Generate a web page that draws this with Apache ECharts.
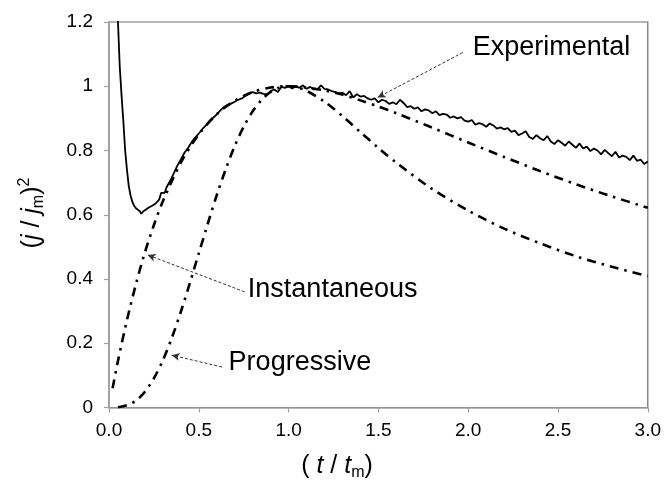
<!DOCTYPE html>
<html><head><meta charset="utf-8">
<script src="https://cdn.jsdelivr.net/npm/echarts@6/dist/echarts.min.js"></script>
<style>html,body{margin:0;padding:0;background:#fff}#c{width:664px;height:484px}</style>
</head><body><div id="c"></div>
<script>
// Experimental curve (t/tm, (j/jm)^2)
const expT = [0.04,0.05,0.06,0.07,0.08,0.09,0.10,0.11,0.12,0.13,0.14,0.15,0.16,0.17,0.18,0.19,0.20,0.22,0.24,0.26,0.28,0.29,0.30,0.31,0.32,0.34,0.36,0.38,0.40,0.42,0.44,0.46,0.48,0.50,0.52,0.54,0.56,0.58,0.60,0.62,0.64,0.66,0.68,0.70,0.72,0.74,0.76,0.78,0.80,0.82,0.84,0.86,0.88,0.90,0.92,0.94,0.96,0.98,1.00,1.02,1.04,1.06,1.08,1.10,1.12,1.14,1.16,1.18,1.20,1.22,1.24,1.26,1.28,1.30,1.32,1.34,1.36,1.38,1.40,
1.42,1.44,1.46,1.48,1.50,1.52,1.54,1.56,1.58,1.60,1.62,1.64,1.66,1.68,1.70,1.72,1.74,1.76,1.78,1.80,1.82,1.84,1.86,1.88,1.90,1.92,1.94,1.96,1.98,2.00,2.02,2.04,2.06,2.08,2.10,2.12,2.14,2.16,2.18,2.20,2.22,2.24,2.26,2.28,2.30,2.32,2.34,2.36,2.38,2.40,2.42,2.44,2.46,2.48,2.50,2.52,2.54,2.56,2.58,2.60,2.62,2.64,2.66,2.68,2.70,2.72,2.74,2.76,2.78,2.80,2.82,2.84,2.86,2.88,2.90,2.92,2.94,2.96,2.98,3.00];
const expV = [1.40,1.20,1.06,0.97,0.89,0.80,0.74,0.69,0.66,0.64,0.628,0.62,0.615,0.612,0.603,0.61,0.616,0.622,0.628,0.635,0.648,0.668,0.672,0.668,0.685,0.705,0.728,0.752,0.772,0.793,0.808,0.826,0.840,0.853,0.867,0.878,0.892,0.902,0.912,0.925,0.935,0.942,0.946,0.952,0.958,0.962,0.970,0.977,0.982,0.978,0.980,0.976,0.975,0.985,0.990,0.982,0.998,0.995,1.000,0.993,1.000,0.995,1.003,0.992,0.998,0.990,0.990,1.003,0.992,0.990,0.985,0.982,0.978,0.980,0.972,0.985,0.965,0.975,0.968,
0.970,0.962,0.958,0.962,0.950,0.958,0.954,0.945,0.950,0.944,0.958,0.948,0.935,0.938,0.930,0.934,0.922,0.928,0.925,0.916,0.922,0.910,0.914,0.912,0.902,0.906,0.900,0.904,0.893,0.890,0.895,0.880,0.885,0.882,0.874,0.884,0.878,0.868,0.872,0.866,0.870,0.858,0.862,0.848,0.853,0.860,0.842,0.836,0.848,0.838,0.832,0.845,0.828,0.820,0.832,0.824,0.815,0.828,0.818,0.808,0.822,0.806,0.812,0.798,0.806,0.800,0.788,0.802,0.792,0.782,0.796,0.778,0.784,0.780,0.770,0.784,0.768,0.772,0.758,0.766];

// Instantaneous nucleation model
const instT = [0.02,0.05,0.10,0.15,0.20,0.25,0.30,0.40,0.50,0.60,0.70,0.80,0.90,1.00,1.10,1.20,1.30,1.40,1.50,1.60,1.80,2.00,2.20,2.40,2.60,2.80,3.00];
const instV = [0.060,0.145,0.272,0.384,0.483,0.568,0.642,0.762,0.850,0.913,0.955,0.982,0.996,1.000,0.996,0.987,0.974,0.956,0.937,0.916,0.871,0.825,0.780,0.736,0.695,0.657,0.622];

// Progressive nucleation model
const progT = [0.05,0.10,0.15,0.20,0.25,0.30,0.35,0.40,0.45,0.50,0.55,0.60,0.65,0.70,0.75,0.80,0.85,0.90,0.95,1.00,1.05,1.10,1.20,1.30,1.40,1.50,1.60,1.80,2.00,2.20,2.40,2.60,2.80,3.00];
const progV = [0.001,0.007,0.021,0.049,0.091,0.147,0.217,0.298,0.387,0.480,0.572,0.661,0.742,0.814,0.874,0.922,0.958,0.982,0.996,1.000,0.996,0.986,0.952,0.907,0.857,0.808,0.762,0.680,0.613,0.557,0.511,0.471,0.438,0.409];

// Axis ticks
const xTicks = [0,0.5,1.0,1.5,2.0,2.5,3.0];
const yTicks = [0,0.2,0.4,0.6,0.8,1.0,1.2];

// Annotations (data coordinates)
const annoText = ['Experimental','Instantaneous','Progressive'];
const annoPos = [[2.025,1.121],[0.773,0.366],[0.666,0.139]];
const arrowFrom = [[1.97,1.105],[0.755,0.360],[0.629,0.126]];
const arrowTo = [[1.496,0.965],[0.215,0.475],[0.349,0.163]];

const zip = (a,b) => a.map((v,i)=>[v,b[i]]);
const FONT = 'Liberation Sans, Arial, sans-serif';

const chart = echarts.init(document.getElementById('c'), null, {renderer:'canvas'});
const dashDot = [9,6,2.5,6];
const option = {
  animation:false,
  backgroundColor:'#fff',
  grid:{left:109, right:16, top:22, bottom:76.5, show:true, borderColor:'#6e6e6e', borderWidth:1.2, backgroundColor:'transparent'},
  xAxis:{type:'value', min:xTicks[0], max:xTicks[xTicks.length-1], interval:0.5,
    axisLine:{show:true, onZero:false, lineStyle:{color:'#a0a0a0', width:1.5}},
    axisTick:{show:true, length:5, lineStyle:{color:'#a0a0a0', width:1.2}},
    splitLine:{show:false},
    axisLabel:{margin:14, color:'#000', fontSize:19, fontFamily:FONT, formatter:v=>v.toFixed(1)}},
  yAxis:{type:'value', min:yTicks[0], max:yTicks[yTicks.length-1], interval:0.2,
    axisLine:{show:true, onZero:false, lineStyle:{color:'#a0a0a0', width:1.5}},
    axisTick:{show:true, length:5, lineStyle:{color:'#a0a0a0', width:1.2}},
    splitLine:{show:false},
    axisLabel:{margin:16, color:'#000', fontSize:19, fontFamily:FONT, formatter:v=>String(+v.toFixed(1))}},
  series:[
    {name:'Instantaneous', type:'line', data:zip(instT,instV), smooth:0.3, showSymbol:false, clip:true,
     lineStyle:{color:'#000', width:2.6, type:dashDot}},
    {name:'Progressive', type:'line', data:zip(progT,progV), smooth:0.3, showSymbol:false, clip:true,
     lineStyle:{color:'#000', width:2.6, type:dashDot}},
    {name:'Experimental', type:'line', data:zip(expT,expV), showSymbol:false, clip:true,
     lineStyle:{color:'#000', width:1.8},
     markLine:{silent:true, symbol:['none','arrow'], symbolSize:[6,8], animation:false,
       label:{show:false},
       lineStyle:{color:'#333', width:1, type:[3,2]},
       data: arrowFrom.map((f,i)=>[{coord:f},{coord:arrowTo[i]}])}}
  ]
};
chart.setOption(option);

const rich = {
  n:{fontSize:25, fontFamily:FONT, color:'#000', lineHeight:30},
  i:{fontSize:25, fontFamily:FONT, fontStyle:'italic', color:'#000', lineHeight:30},
  sub:{fontSize:16, fontFamily:FONT, color:'#000', lineHeight:16, verticalAlign:'bottom'},
  sup:{fontSize:16, fontFamily:FONT, color:'#000', lineHeight:16, verticalAlign:'top'}
};
const graphics = annoText.map((t,i)=>{
  const p = chart.convertToPixel({gridIndex:0}, annoPos[i]);
  return {type:'text', x:p[0], y:p[1], silent:true,
    style:{text:t, fontSize:27, fontFamily:FONT, fill:'#000', align:'left', verticalAlign:'middle'}};
});
graphics.push({type:'text', x:337, y:466, silent:true,
  style:{text:'{n|( }{i|t}{n| / }{i|t}{sub|m}{n|)}', rich:rich, align:'center', verticalAlign:'middle'}});
graphics.push({type:'text', x:32, y:213, rotation:Math.PI/2, silent:true,
  style:{text:'{n|(}{i|j}{n| / }{i|j}{sub|m}{n|)}{sup|2}', rich:rich, align:'center', verticalAlign:'middle'}});
chart.setOption({graphic:graphics});
</script>
</body></html>
